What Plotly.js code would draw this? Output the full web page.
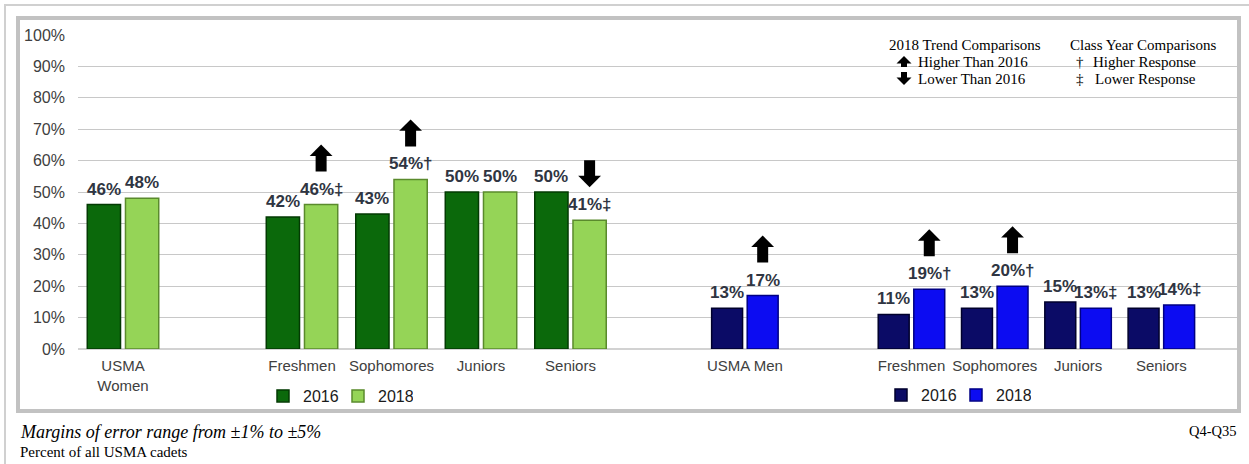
<!DOCTYPE html>
<html>
<head>
<meta charset="utf-8">
<script src="https://cdn.plot.ly/plotly-3.0.1.min.js"></script>
<style>
  html, body { margin: 0; padding: 0; background: #ffffff; }
  #chart { width: 1249px; height: 464px; }
</style>
</head>
<body>
<div id="chart"></div>
<script>
// ---------------- DATA ----------------
const womenCats = ['USMA<br>Women', ' ', 'Freshmen', 'Sophomores', 'Juniors', 'Seniors'];
const women2016 = [46, null, 42, 43, 50, 50];
const women2018 = [48, null, 46, 54, 50, 41];
const women2018Marks = ['', '', '‡', '†', '', '‡'];
const women2018Trend = ['', '', 'up', 'up', '', 'down'];

const menCats = ['USMA Men', ' ', 'Freshmen', 'Sophomores', 'Juniors', 'Seniors'];
const men2016 = [13, null, 11, 13, 15, 13];
const men2018 = [17, null, 19, 20, 13, 14];
const men2018Marks = ['', '', '†', '†', '‡', '‡'];
const men2018Trend = ['up', '', 'up', 'up', '', ''];

const seriesNames = ['2016', '2018'];
const yTickVals = [0, 10, 20, 30, 40, 50, 60, 70, 80, 90, 100];
const yTickText = yTickVals.map(v => v + '%');

// ---------------- LAYOUT HELPERS ----------------
const W = 1249, H = 464;
const px = x => x / W;
const py = y => 1 - y / H;
const SANS = 'Liberation Sans, Arial, sans-serif';
const SERIF = 'Liberation Serif, Times New Roman, serif';
const BARGAP = 0.146, GROUPGAP = 0.13;
const leftDom = [78.25, 615.25];
const rightDom = [703.25, 1203];
const leftOff = (leftDom[1] - leftDom[0]) / womenCats.length * (1 - BARGAP) / 4;
const rightOff = (rightDom[1] - rightDom[0]) / menCats.length * (1 - BARGAP) / 4;

const colors = {
  w16: '#0b690b', w16l: '#033a03',
  w18: '#95d457', w18l: '#5a8a2c',
  m16: '#0b0b66', m16l: '#00002c',
  m18: '#0c0cf2', m18l: '#000084'
};

const traces = [
  { type: 'scatter', x: [], y: [], xaxis: 'x', yaxis: 'y', showlegend: false, hoverinfo: 'skip' },
  { type: 'bar', name: seriesNames[0], x: womenCats, y: women2016, xaxis: 'x2', yaxis: 'y',
    marker: { color: colors.w16, line: { color: colors.w16l, width: 1.5 } }, legend: 'legend', hoverinfo: 'skip' },
  { type: 'bar', name: seriesNames[1], x: womenCats, y: women2018, xaxis: 'x2', yaxis: 'y',
    marker: { color: colors.w18, line: { color: colors.w18l, width: 1.5 } }, legend: 'legend', hoverinfo: 'skip' },
  { type: 'bar', name: seriesNames[0], x: menCats, y: men2016, xaxis: 'x3', yaxis: 'y',
    marker: { color: colors.m16, line: { color: colors.m16l, width: 1.5 } }, legend: 'legend2', hoverinfo: 'skip' },
  { type: 'bar', name: seriesNames[1], x: menCats, y: men2018, xaxis: 'x3', yaxis: 'y',
    marker: { color: colors.m18, line: { color: colors.m18l, width: 1.5 } }, legend: 'legend2', hoverinfo: 'skip' }
];

const annotations = [];
const labelFont = { family: SANS, size: 17, color: '#2f3542', weight: 700 };
const LABEL_SHIFT = 5;

function addLabels(cats, vals, marks, xref, sign, off) {
  cats.forEach((c, i) => {
    if (vals[i] == null) return;
    annotations.push({
      xref: xref, yref: 'y', x: c, y: vals[i], text: vals[i] + '%' + (marks ? marks[i] : ''),
      xshift: sign * off, yshift: LABEL_SHIFT, yanchor: 'bottom', xanchor: 'center',
      showarrow: false, font: labelFont, borderpad: 0
    });
  });
}

// block arrow = wide headless shaft + separate head with thin line
function blockArrow(base, tipShift, up, total, headScale, shaftW) {
  const headLen = 3 * headScale;
  const s = up ? 1 : -1;
  const common = { text: ' ', font: { size: 1 }, showarrow: true, ax: 0, axref: 'pixel', ayref: 'pixel',
    arrowcolor: '#000000', standoff: 0, borderpad: 0, borderwidth: 0 };
  annotations.push(Object.assign({}, base, common, {
    yshift: (base.yshift || 0) + tipShift - s * (headLen - 1.5),
    ay: s * (total - headLen + 1.5), arrowhead: 0, arrowwidth: shaftW
  }));
  annotations.push(Object.assign({}, base, common, {
    yshift: (base.yshift || 0) + tipShift,
    ay: s * Math.min(total, headLen + 2), arrowhead: 1, arrowwidth: 1, arrowsize: headScale
  }));
}

function addArrows(cats, vals, trend, xref, off) {
  cats.forEach((c, i) => {
    if (!trend[i]) return;
    const up = trend[i] === 'up';
    blockArrow({ xref: xref, yref: 'y', x: c, y: vals[i], xshift: off }, up ? 60 : 33, up, 27, 3.8, 11);
  });
}
addLabels(womenCats, women2016, null, 'x2', -1, leftOff);
addLabels(womenCats, women2018, women2018Marks, 'x2', 1, leftOff);
addLabels(menCats, men2016, null, 'x3', -1, rightOff);
addLabels(menCats, men2018, men2018Marks, 'x3', 1, rightOff);
addArrows(womenCats, women2018, women2018Trend, 'x2', leftOff);
addArrows(menCats, men2018, men2018Trend, 'x3', rightOff);

// key box (top right)
const keyFont = { family: SERIF, size: 15, color: '#000000' };
function txt(text, x, y, xanchor, font) {
  annotations.push({ xref: 'paper', yref: 'paper', x: px(x), y: py(y), text: text,
    xanchor: xanchor, yanchor: 'middle', showarrow: false, font: font || keyFont, borderpad: 0 });
}
txt('2018 Trend Comparisons', 965, 45, 'center');
txt('Higher Than 2016', 917, 62, 'left');
txt('Lower Than 2016', 917, 79, 'left');
txt('Class Year Comparisons', 1143, 45, 'center');
txt('†', 1080, 62, 'center');
txt('Higher Response', 1092, 62, 'left');
txt('‡', 1080, 79, 'center');
txt('Lower Response', 1094, 79, 'left');
blockArrow({ xref: 'paper', yref: 'paper', x: px(904), y: py(56) }, 0, true, 11, 2.5, 6);
blockArrow({ xref: 'paper', yref: 'paper', x: px(904), y: py(85) }, 0, false, 13, 2.5, 6);

// footer texts
txt('<i>Margins of error range from ±1% to ±5%</i>', 19, 432, 'left', { family: SERIF, size: 18, color: '#000000' });
txt('Percent of all USMA cadets', 19, 452, 'left', { family: SERIF, size: 15, color: '#000000' });
txt('Q4-Q35', 1238, 431, 'right', { family: SERIF, size: 14.5, color: '#000000' });

const shapes = [
  { type: 'line', xref: 'paper', yref: 'paper', x0: px(4), x1: px(1249), y0: py(5), y1: py(5),
    line: { color: '#d0d0d0', width: 2 }, layer: 'below' },
  { type: 'line', xref: 'paper', yref: 'paper', x0: px(5), x1: px(5), y0: py(4), y1: py(464),
    line: { color: '#d0d0d0', width: 2 }, layer: 'below' },
  { type: 'rect', xref: 'paper', yref: 'paper', x0: px(18), x1: px(1239), y0: py(18), y1: py(411),
    line: { color: '#c2c2c2', width: 4 }, fillcolor: 'rgba(0,0,0,0)', layer: 'below' }
];

const catAxis = (dom, cats) => ({
  domain: [px(dom[0]), px(dom[1])], anchor: 'y', type: 'category',
  categoryorder: 'array', categoryarray: cats, range: [-0.5, cats.length - 0.5],
  showgrid: false, zeroline: false, showline: false, ticks: '',
  tickfont: { family: SANS, size: 15, color: '#404040' }, ticklabelstandoff: 6, fixedrange: true
});

const legendBase = {
  yanchor: 'middle', orientation: 'h', entrywidthmode: 'pixels', entrywidth: 30,
  font: { family: SANS, size: 16, color: '#1a1a1a' }, bgcolor: 'rgba(0,0,0,0)', traceorder: 'normal'
};

const layout = {
  width: W, height: H,
  margin: { l: 0, r: 0, t: 0, b: 0 },
  paper_bgcolor: '#ffffff', plot_bgcolor: 'rgba(0,0,0,0)',
  barmode: 'group', bargap: BARGAP, bargroupgap: GROUPGAP,
  xaxis: { domain: [px(80), px(1237)], range: [0, 1], visible: false, fixedrange: true },
  xaxis2: catAxis(leftDom, womenCats),
  xaxis3: catAxis(rightDom, menCats),
  yaxis: {
    domain: [py(349), py(35)], anchor: 'x', range: [0, 100], tickmode: 'array',
    tickvals: yTickVals, ticktext: yTickText,
    showgrid: true, gridcolor: '#c8c8c8', gridwidth: 1,
    zeroline: true, zerolinecolor: '#d2d2d2', zerolinewidth: 2,
    showline: false, ticks: '', tickfont: { family: SANS, size: 16, color: '#404040' },
    ticklabelstandoff: 14, fixedrange: true
  },
  legend: Object.assign({}, legendBase, { x: px(263), xanchor: 'left', y: py(396) }),
  legend2: Object.assign({}, legendBase, { x: px(881), xanchor: 'left', y: py(395) }),
  annotations: annotations,
  shapes: shapes,
  showlegend: true
};

Plotly.newPlot('chart', traces, layout, { displayModeBar: false, staticPlot: true });
</script>
</body>
</html>
